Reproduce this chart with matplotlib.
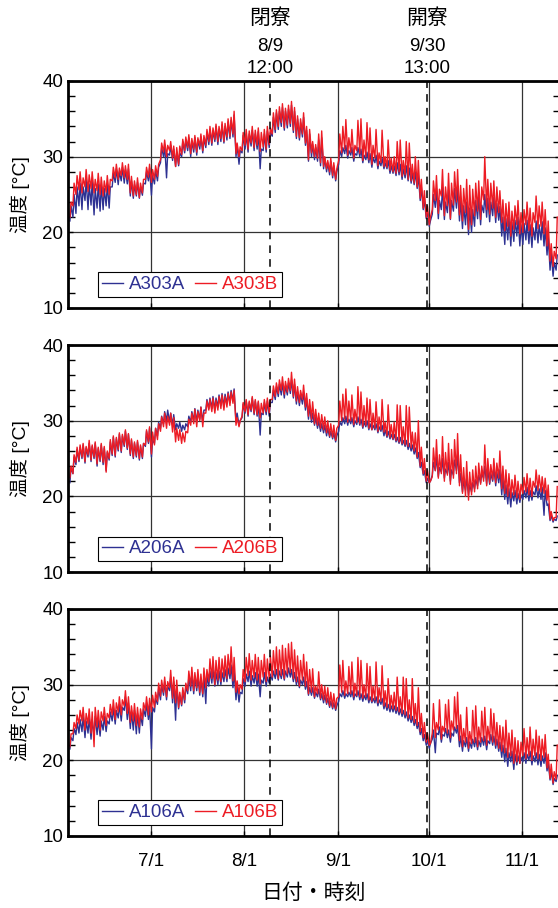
import numpy as np
import pandas as pd
import matplotlib
matplotlib.use('Agg')
import matplotlib.pyplot as plt
from matplotlib.ticker import MultipleLocator

plt.rcParams['font.family'] = ['Liberation Sans', 'Noto Sans CJK JP']

# daily readings (low ~05:00, high ~14:00) from 6/4
days = pd.date_range('2016-06-04', periods=162, freq='D')

a303b_high = [24.0, 26.5, 27.5, 28.0, 27.2, 28.3, 27.6, 28.0, 27.0, 27.8,
              27.3, 26.8, 27.5, 27.0, 28.6, 29.0, 28.5, 29.2, 28.8, 29.0,
              27.4, 26.8, 27.2, 26.5, 27.0, 28.6, 29.0, 28.3, 28.8, 29.0,
              31.8, 32.2, 31.5, 32.0, 31.4, 31.2, 31.4, 32.3, 32.6, 32.9,
              32.4, 32.8, 32.5, 33.0, 32.8, 33.6, 34.0, 33.8, 34.3, 34.0,
              34.6, 34.4, 35.0, 35.2, 36.0, 31.8, 31.3, 33.2, 33.6, 33.4,
              34.0, 33.5, 33.8, 33.2, 33.6, 34.0, 33.8, 35.8, 36.2, 36.6,
              37.0, 36.4, 36.8, 37.3, 36.5, 35.4, 35.0, 35.8, 34.0, 33.6,
              32.0, 31.6, 33.0, 33.4, 30.0, 29.5, 29.8, 29.2, 28.4, 33.0,
              34.0, 34.9, 32.5, 33.6, 31.5, 34.8, 35.0, 32.2, 34.5, 33.8,
              31.5, 33.6, 30.5, 33.5, 30.0, 32.2, 29.8, 30.0, 32.0, 32.2,
              29.5, 32.0, 31.8, 29.0, 30.0, 29.5, 27.0, 25.5, 23.5, 22.0,
              26.8, 27.5, 25.7, 28.3, 26.0, 27.8, 26.5, 28.0, 28.3, 26.2,
              25.8, 27.0, 26.2, 25.7, 26.5, 26.8, 26.0, 30.0, 27.0, 26.5,
              26.8, 26.0, 25.5, 24.3, 23.8, 24.0, 22.8, 23.5, 24.2, 22.6,
              23.0, 24.0, 23.2, 22.6, 24.8, 23.5, 24.0, 23.0, 21.5, 18.5,
              17.5, 22.0]
a303b_low = [22.0, 23.5, 25.0, 25.6, 25.2, 26.0, 25.4, 25.8, 25.2, 25.5,
             25.0, 24.8, 25.3, 25.0, 26.8, 27.2, 27.0, 27.5, 27.2, 27.0,
             25.2, 24.8, 25.0, 24.6, 25.2, 27.0, 27.3, 26.6, 27.0, 27.4,
             29.6, 30.6, 30.0, 30.8, 29.8, 28.7, 29.0, 30.3, 30.8, 31.2,
             30.4, 31.0, 30.6, 31.4, 30.8, 31.5, 32.0, 31.8, 32.3, 32.0,
             32.4, 32.0, 32.6, 32.7, 33.0, 30.4, 30.0, 30.8, 31.5, 31.0,
             31.8, 31.2, 31.5, 30.7, 31.3, 31.0, 31.6, 33.0, 33.6, 34.0,
             34.5, 33.8, 34.2, 34.4, 33.5, 32.7, 32.5, 33.0, 31.8, 29.6,
             30.5, 30.0, 29.8, 29.2, 28.7, 28.4, 28.0, 27.5, 27.0, 29.5,
             30.5, 31.0, 30.2, 30.6, 29.8, 30.8, 30.4, 29.5, 30.0, 29.6,
             29.0, 29.8, 28.8, 29.2, 28.7, 28.6, 28.2, 28.0, 27.8, 28.0,
             27.4, 27.6, 27.0, 26.8, 26.5, 26.0, 24.5, 23.2, 22.0, 21.0,
             23.0, 24.2, 22.5, 24.8, 22.2, 23.5, 21.8, 23.6, 24.0, 22.3,
             21.5, 22.6, 20.4, 21.0, 22.2, 22.8, 21.7, 24.3, 23.0, 22.4,
             23.2, 22.0, 22.6, 21.3, 20.2, 20.8, 19.5, 20.4, 21.0, 19.8,
             20.0, 21.0, 20.2, 19.5, 21.3, 20.5, 20.8, 19.8, 18.2, 16.2,
             15.5, 16.5]
a303a_high = [23.5, 25.0, 26.0, 26.5, 26.0, 27.0, 26.4, 26.8, 25.8, 26.4,
              26.2, 25.8, 26.4, 26.0, 27.8, 28.4, 28.0, 28.6, 28.3, 28.4,
              26.8, 26.3, 26.6, 26.0, 26.5, 28.0, 28.5, 27.5, 28.2, 28.6,
              31.2, 31.6, 30.4, 31.5, 31.0, 30.6, 30.5, 32.0, 32.2, 32.5,
              32.0, 32.5, 32.2, 32.6, 32.4, 33.2, 33.6, 33.4, 34.0, 33.6,
              34.2, 34.0, 34.6, 34.8, 35.5, 31.5, 30.8, 32.8, 33.0, 33.0,
              33.5, 33.0, 33.3, 31.0, 33.0, 33.4, 33.2, 35.2, 35.8, 36.0,
              36.5, 36.0, 36.3, 36.8, 36.0, 35.0, 34.5, 35.2, 33.5, 33.0,
              31.6, 31.2, 32.2, 32.5, 29.8, 29.2, 29.4, 28.8, 28.0, 30.8,
              31.2, 31.5, 30.8, 31.2, 30.4, 31.2, 31.0, 30.2, 30.6, 30.4,
              29.8, 30.2, 29.4, 29.8, 29.2, 29.5, 28.8, 28.8, 29.2, 29.0,
              28.4, 28.8, 28.5, 27.8, 28.0, 27.6, 26.0, 24.5, 22.8, 21.5,
              25.0, 25.8, 24.2, 26.0, 24.0, 25.6, 24.2, 25.8, 26.0, 24.3,
              23.5, 24.0, 23.2, 23.0, 24.2, 24.8, 23.6, 25.0, 24.5, 24.0,
              24.6, 23.8, 23.4, 22.0, 21.8, 22.0, 21.3, 21.6, 22.0, 21.0,
              21.2, 21.6, 21.0, 20.6, 21.5, 21.0, 21.4, 20.6, 19.5, 17.3,
              16.0, 17.0]
a303a_low = [21.5, 22.0, 22.5, 23.5, 23.0, 24.2, 23.0, 23.6, 22.3, 23.2,
             22.8, 23.0, 23.5, 23.2, 26.0, 26.6, 26.3, 26.8, 26.5, 26.4,
             24.8, 24.5, 24.8, 24.5, 24.9, 26.4, 26.8, 24.9, 26.4, 26.8,
             29.2, 30.0, 27.2, 30.2, 29.5, 28.7, 28.8, 30.0, 30.5, 30.8,
             30.0, 30.6, 30.2, 31.0, 30.5, 31.2, 31.6, 31.5, 32.0, 31.6,
             32.0, 31.8, 32.2, 32.4, 32.6, 30.0, 29.0, 30.5, 31.0, 30.6,
             31.4, 30.8, 31.0, 28.4, 30.8, 30.6, 31.2, 32.7, 33.2, 33.6,
             34.0, 33.5, 33.8, 34.0, 33.2, 32.4, 32.2, 32.6, 31.5, 29.4,
             30.0, 29.6, 29.4, 28.8, 28.4, 28.0, 27.6, 27.2, 26.8, 29.0,
             30.0, 30.4, 29.8, 30.2, 29.4, 30.2, 30.0, 29.2, 29.6, 29.2,
             28.6, 29.2, 28.4, 28.8, 28.4, 28.4, 27.8, 27.8, 27.5, 27.6,
             27.0, 27.2, 26.8, 26.5, 26.3, 25.8, 24.2, 23.0, 21.8, 20.8,
             22.4, 23.3, 21.8, 23.0, 21.7, 22.6, 21.7, 22.8, 23.2, 21.5,
             20.5, 21.0, 19.7, 20.0, 20.8, 21.8, 21.0, 22.6, 22.0, 21.4,
             22.2, 21.3, 21.6, 19.5, 18.4, 19.0, 18.2, 18.8, 19.5, 18.2,
             18.4, 19.0, 18.5, 18.0, 19.0, 18.6, 19.0, 18.2, 17.0, 15.0,
             14.2, 15.0]

a206b_high = [24.0, 25.5, 26.5, 26.8, 27.0, 26.6, 27.4, 26.8, 27.2, 26.5,
              27.0, 26.6, 26.0, 27.5, 28.0, 27.8, 28.4, 28.2, 28.8, 28.3,
              27.6, 27.2, 27.4, 26.8, 27.0, 28.8, 29.2, 28.5, 29.0, 29.6,
              30.5, 31.0, 30.6, 31.0, 30.4, 29.0, 28.8, 28.4, 28.6, 30.2,
              31.0, 31.5, 31.2, 31.8, 31.0, 32.6, 32.8, 33.0, 32.7, 33.2,
              33.4, 33.2, 33.6, 33.8, 34.0, 30.4, 30.0, 32.4, 32.8, 32.6,
              33.2, 32.8, 32.6, 32.3, 32.8, 33.0, 32.8, 34.6, 35.0, 35.4,
              35.8, 35.2, 35.6, 36.4, 35.5, 34.5, 34.0, 34.7, 33.6, 32.8,
              32.5, 31.5, 31.0, 30.8, 30.5, 30.0, 29.6, 29.4, 29.0, 32.6,
              33.5, 34.2, 32.6, 33.4, 31.5, 34.5, 33.8, 32.0, 33.0, 32.8,
              31.0, 32.5, 30.5, 32.8, 29.8, 32.1, 29.5, 29.8, 32.1, 32.0,
              29.2, 32.0, 31.8, 28.5, 28.4, 30.0, 26.5, 25.0, 23.5, 22.0,
              26.4, 27.5, 25.5, 27.9, 25.8, 27.0, 26.2, 27.5, 28.3, 25.5,
              23.8, 24.6, 23.2, 23.5, 24.0, 24.4, 24.0, 26.8, 25.0, 24.2,
              25.0, 24.4, 26.0, 24.0, 23.5, 23.0, 22.2, 22.8, 22.0, 21.6,
              22.5, 23.0, 22.4, 22.0, 23.5, 22.8, 22.6, 22.4, 21.5, 18.0,
              17.2, 21.3]
a206b_low = [22.5, 23.0, 24.5, 24.8, 25.2, 24.6, 25.5, 24.8, 25.2, 24.3,
             24.8, 24.5, 23.2, 25.0, 25.6, 25.4, 26.2, 26.0, 26.8, 26.4,
             25.6, 25.2, 25.4, 25.0, 25.2, 26.8, 27.2, 25.6, 26.8, 27.5,
             28.6, 29.2, 29.0, 29.4, 28.5, 27.2, 27.4, 27.0, 27.2, 28.4,
             29.4, 29.6, 29.2, 30.0, 29.2, 31.0, 31.4, 31.2, 31.0, 31.4,
             31.6, 31.4, 31.8, 32.0, 32.3, 29.4, 29.2, 30.6, 31.2, 30.8,
             31.4, 31.0, 30.8, 30.4, 31.0, 31.2, 31.0, 32.8, 33.2, 33.6,
             34.0, 33.5, 33.8, 34.0, 33.2, 32.6, 32.4, 32.8, 31.8, 30.6,
             30.2, 29.6, 29.4, 29.0, 28.8, 28.4, 28.0, 27.8, 27.4, 29.4,
             30.0, 30.2, 29.8, 30.0, 29.5, 29.8, 29.6, 29.2, 29.4, 29.0,
             28.8, 29.0, 28.6, 28.8, 28.5, 28.0, 27.8, 27.6, 27.4, 27.2,
             27.0, 26.8, 26.6, 26.4, 26.0, 25.2, 24.0, 23.0, 22.0, 21.8,
             22.6, 23.4, 22.4, 23.0, 22.0, 22.8, 21.6, 22.4, 23.0, 21.4,
             20.4, 20.0, 19.5, 20.2, 20.6, 21.0, 21.6, 22.0, 21.4, 21.8,
             22.2, 21.8, 22.4, 21.0, 20.4, 20.0, 19.8, 20.2, 19.8, 19.6,
             20.4, 20.6, 20.2, 20.0, 21.2, 20.8, 20.6, 20.4, 19.5, 17.0,
             16.8, 17.2]
a206a_high = [23.8, 25.2, 26.2, 26.5, 26.8, 26.4, 27.0, 26.6, 27.0, 26.3,
              26.8, 26.4, 25.8, 27.2, 27.8, 27.6, 28.2, 28.0, 28.6, 28.2,
              27.4, 27.0, 27.2, 26.6, 27.0, 28.6, 29.0, 27.5, 29.0, 29.8,
              30.6, 31.2, 31.4, 31.0, 30.8, 29.6, 29.8, 29.4, 29.6, 30.6,
              31.2, 31.6, 31.4, 31.8, 31.4, 32.8, 33.0, 33.2, 33.0, 33.4,
              33.6, 33.5, 33.8, 34.0, 34.2, 31.0, 30.0, 32.2, 32.6, 32.4,
              33.0, 32.6, 32.4, 31.0, 32.4, 32.6, 32.4, 34.0, 34.5, 34.8,
              35.0, 34.6, 35.0, 35.4, 34.8, 33.8, 33.5, 33.8, 33.0, 32.0,
              31.0, 30.5, 30.0, 29.6, 29.4, 29.0, 28.6, 28.4, 28.0, 29.8,
              30.4, 30.6, 30.2, 30.4, 30.0, 30.5, 30.2, 29.8, 30.0, 29.6,
              29.4, 29.6, 29.2, 29.4, 28.8, 28.6, 28.2, 28.2, 27.8, 27.8,
              27.4, 27.4, 27.0, 26.8, 26.4, 25.8, 24.5, 23.4, 22.4, 22.0,
              24.5, 25.2, 23.8, 25.0, 23.6, 24.5, 23.5, 24.8, 25.5, 23.0,
              22.0, 22.4, 21.5, 21.8, 22.2, 22.8, 23.0, 24.0, 23.5, 23.0,
              23.8, 23.2, 23.5, 22.4, 21.5, 21.0, 20.5, 20.8, 20.4, 20.2,
              20.8, 21.2, 20.8, 20.6, 21.4, 21.0, 21.2, 20.8, 19.0, 17.5,
              17.0, 17.4]
a206a_low = [21.8, 23.0, 24.2, 24.6, 25.0, 24.4, 25.2, 24.6, 25.0, 24.0,
             24.6, 24.2, 23.4, 24.8, 25.4, 25.2, 26.0, 25.8, 26.6, 26.2,
             25.4, 25.0, 25.2, 24.8, 25.0, 26.6, 27.0, 25.2, 27.0, 28.0,
             29.0, 29.6, 30.0, 29.8, 29.4, 28.8, 29.0, 28.6, 28.8, 29.2,
             29.8, 30.0, 29.8, 30.2, 29.8, 31.4, 31.6, 31.6, 31.4, 31.8,
             32.0, 31.8, 32.2, 32.4, 32.6, 29.8, 29.4, 30.4, 31.0, 30.6,
             31.2, 30.8, 30.6, 28.1, 30.8, 30.8, 30.6, 32.4, 32.8, 33.2,
             33.4, 33.0, 33.4, 33.6, 33.0, 32.2, 32.0, 32.2, 31.4, 30.2,
             29.8, 29.4, 29.0, 28.6, 28.4, 28.0, 27.8, 27.6, 27.2, 28.6,
             29.4, 29.6, 29.4, 29.6, 29.2, 29.5, 29.4, 29.0, 29.2, 28.8,
             28.8, 28.8, 28.4, 28.6, 28.0, 27.8, 27.6, 27.5, 27.2, 27.0,
             26.8, 26.6, 26.2, 26.0, 25.6, 25.0, 23.8, 22.8, 21.8, 21.8,
             22.8, 23.4, 22.6, 23.2, 22.4, 23.0, 22.0, 22.8, 23.4, 21.8,
             20.6, 20.8, 20.2, 20.6, 21.0, 21.4, 21.8, 22.4, 21.6, 21.6,
             22.0, 21.4, 21.8, 20.2, 19.6, 19.0, 18.6, 19.4, 19.0, 19.2,
             19.6, 19.8, 19.4, 19.5, 20.2, 19.8, 19.6, 17.5, 18.8, 16.8,
             16.6, 16.8]

a106b_high = [23.5, 25.0, 26.0, 26.6, 27.0, 26.2, 26.8, 26.4, 27.0, 26.6,
              26.4, 27.0, 26.2, 27.4, 28.0, 27.6, 28.4, 28.0, 29.2, 28.4,
              27.2, 27.5, 27.0, 26.8, 27.6, 28.4, 28.2, 28.6, 29.0, 30.2,
              30.6, 31.0, 30.4, 31.9, 31.0, 30.6, 29.0, 29.6, 30.2, 31.8,
              32.3, 31.6, 32.0, 31.4, 32.2, 32.0, 33.4, 33.7, 33.2, 33.6,
              33.4, 33.8, 34.0, 35.0, 33.6, 30.5, 30.0, 32.0, 33.6, 34.1,
              33.2, 34.0, 33.6, 33.2, 34.0, 33.4, 33.8, 34.5, 35.0, 34.6,
              35.2, 34.8, 35.4, 35.6, 34.6, 33.8, 33.2, 34.0, 33.0, 32.0,
              32.1, 29.8, 31.7, 30.0, 29.8, 29.6, 29.0, 28.8, 28.2, 32.6,
              33.2, 30.5, 32.4, 33.0, 30.2, 33.6, 33.2, 30.0, 32.8, 32.4,
              29.8, 33.0, 29.6, 32.5, 29.2, 30.8, 28.6, 29.0, 31.0, 28.4,
              31.0, 30.8, 28.0, 30.8, 27.5, 29.6, 26.2, 25.0, 23.6, 22.2,
              27.5, 25.0, 28.0, 24.5, 27.4, 28.0, 25.2, 28.4, 29.0, 26.0,
              24.2, 27.0, 23.8, 26.6, 27.2, 24.4, 26.5, 27.0, 24.5, 26.8,
              26.2, 25.0, 24.6, 24.4, 25.3, 23.6, 24.0, 23.0, 22.6, 22.4,
              24.2, 23.0, 24.4, 22.8, 24.0, 23.2, 22.8, 23.4, 20.8, 19.5,
              18.5, 22.0]
a106b_low = [21.8, 23.5, 24.2, 24.8, 25.2, 24.0, 24.8, 23.6, 21.8, 24.4,
             24.0, 25.2, 24.6, 25.6, 26.0, 25.4, 26.4, 26.0, 27.2, 26.2,
             25.0, 25.2, 24.6, 24.4, 25.4, 26.6, 26.0, 26.4, 27.0, 27.8,
             28.5, 29.0, 28.4, 29.6, 28.2, 27.6, 27.0, 27.4, 28.0, 29.2,
             29.8, 29.2, 29.6, 29.0, 28.8, 29.6, 30.4, 30.8, 30.0, 30.6,
             30.4, 31.0, 30.8, 31.4, 30.5, 29.0, 28.8, 29.4, 30.4, 31.2,
             30.6, 31.0, 30.6, 30.1, 31.0, 30.4, 30.8, 31.0, 31.4, 30.8,
             31.2, 30.8, 31.4, 31.6, 30.8, 30.4, 29.8, 30.6, 29.8, 28.8,
             29.0, 28.4, 28.8, 28.2, 28.0, 27.6, 27.2, 27.0, 26.8, 28.4,
             29.0, 28.6, 28.8, 28.8, 28.4, 28.6, 28.4, 28.2, 28.4, 28.0,
             27.8, 28.0, 27.6, 27.8, 27.2, 27.0, 26.8, 26.8, 26.6, 26.4,
             26.2, 26.0, 25.6, 25.4, 25.0, 24.6, 23.8, 23.0, 22.4, 22.0,
             23.6, 23.0, 24.0, 22.8, 23.8, 23.6, 23.0, 24.0, 24.2, 22.6,
             21.8, 22.4, 21.6, 22.2, 22.4, 21.8, 22.4, 22.6, 22.0, 22.6,
             22.4, 22.0, 21.6, 21.2, 21.0, 20.4, 20.6, 19.6, 19.8, 19.6,
             20.6, 20.2, 20.6, 20.0, 20.6, 20.2, 20.0, 20.4, 19.0, 17.6,
             17.0, 17.5]
a106a_high = [23.0, 24.2, 25.0, 25.4, 25.8, 25.2, 25.6, 25.4, 25.8, 25.4,
              25.2, 25.8, 25.2, 26.4, 27.0, 26.6, 27.4, 27.0, 28.4, 27.6,
              26.4, 26.6, 26.2, 26.0, 26.8, 27.6, 27.4, 27.0, 28.2, 29.5,
              30.0, 30.4, 29.8, 31.0, 30.4, 29.8, 28.6, 29.2, 29.8, 31.0,
              31.4, 31.0, 31.2, 30.8, 31.2, 31.2, 31.8, 32.0, 31.6, 31.8,
              31.6, 32.0, 32.2, 32.6, 31.8, 30.0, 29.0, 30.8, 31.4, 31.8,
              31.2, 31.6, 31.4, 30.6, 31.6, 31.0, 31.4, 31.8, 32.0, 31.8,
              32.0, 31.8, 32.2, 32.0, 31.6, 31.0, 30.6, 31.0, 30.4, 29.6,
              29.6, 29.0, 29.4, 28.8, 28.6, 28.2, 27.8, 27.6, 27.2, 28.8,
              29.2, 28.8, 29.0, 29.2, 28.8, 29.2, 28.8, 28.6, 28.8, 28.4,
              28.2, 28.4, 28.0, 28.2, 27.6, 27.4, 27.2, 27.2, 27.0, 26.8,
              26.6, 26.4, 26.0, 25.8, 25.4, 25.0, 24.2, 23.4, 22.6, 22.2,
              24.0, 23.6, 24.4, 23.4, 24.2, 24.0, 23.6, 24.4, 24.6, 23.2,
              22.6, 23.0, 22.4, 22.8, 23.0, 22.6, 23.0, 23.2, 22.6, 23.4,
              23.2, 22.8, 22.4, 22.0, 21.6, 21.0, 21.2, 20.8, 20.6, 20.4,
              21.0, 20.8, 21.2, 20.6, 21.0, 20.8, 20.6, 21.0, 19.8, 18.6,
              17.6, 18.0]
a106a_low = [21.5, 22.6, 23.4, 23.6, 23.8, 23.0, 23.6, 22.8, 23.2, 23.4,
             23.2, 24.0, 23.8, 24.8, 25.2, 24.8, 25.6, 25.2, 26.6, 25.4,
             24.2, 24.0, 23.5, 23.6, 24.6, 25.8, 25.4, 21.5, 26.4, 27.4,
             28.0, 28.6, 28.0, 29.2, 27.6, 25.3, 26.8, 27.2, 27.6, 28.8,
             29.2, 28.8, 29.2, 28.6, 28.4, 27.5, 29.8, 30.2, 29.8, 30.0,
             30.0, 30.4, 30.4, 30.8, 29.6, 28.0, 27.7, 28.8, 29.8, 30.4,
             29.8, 30.2, 29.8, 28.4, 30.2, 29.8, 30.2, 30.6, 30.8, 30.6,
             30.8, 30.6, 31.0, 31.0, 30.4, 30.0, 29.6, 30.0, 29.4, 28.6,
             28.6, 28.2, 28.4, 28.0, 27.6, 27.4, 27.0, 26.8, 26.6, 27.8,
             28.4, 28.2, 28.4, 28.4, 28.0, 28.4, 28.0, 27.8, 28.0, 27.6,
             27.6, 27.6, 27.2, 27.4, 26.8, 26.6, 26.4, 26.4, 26.2, 26.0,
             25.8, 25.6, 25.2, 25.0, 24.6, 24.2, 23.4, 22.6, 22.0, 21.6,
             22.8, 21.0, 23.4, 22.4, 23.2, 23.0, 22.4, 23.2, 23.6, 21.8,
             21.2, 21.8, 21.2, 21.6, 21.8, 21.4, 21.8, 22.0, 21.4, 22.2,
             22.0, 21.6, 21.2, 20.4, 19.8, 19.2, 19.8, 18.8, 19.4, 19.6,
             19.8, 19.6, 20.0, 19.4, 19.8, 19.4, 19.2, 19.6, 18.6, 17.4,
             16.8, 17.2]

names_a = ['A303A', 'A206A', 'A106A']
names_b = ['A303B', 'A206B', 'A106B']
lows_a = [a303a_low, a206a_low, a106a_low]
highs_a = [a303a_high, a206a_high, a106a_high]
lows_b = [a303b_low, a206b_low, a106b_low]
highs_b = [a303b_high, a206b_high, a106b_high]

month_ticks = pd.to_datetime(['2016-07-01', '2016-08-01', '2016-09-01',
                              '2016-10-01', '2016-11-01'])
month_labels = ['7/1', '8/1', '9/1', '10/1', '11/1']
events = pd.to_datetime(['2016-08-09 12:00', '2016-09-30 13:00'])
event_lines = [('閉寮', '8/9', '12:00'), ('開寮', '9/30', '13:00')]


def series(low, high):
    t = np.empty(2 * len(days), dtype='datetime64[ns]')
    t[0::2] = (days + pd.Timedelta(hours=5)).values
    t[1::2] = (days + pd.Timedelta(hours=14)).values
    v = np.empty(2 * len(days))
    v[0::2] = low
    v[1::2] = high
    return t, v


fig = plt.figure(figsize=(5.58, 9.08), dpi=100)
bottoms = [0.6608, 0.3700, 0.0793]

for i in range(3):
    ax = fig.add_axes([0.1219, bottoms[i], 0.8817, 0.25])
    t, va = series(lows_a[i], highs_a[i])
    t, vb = series(lows_b[i], highs_b[i])
    ax.plot(t, va, color='#2e3192', lw=1.0, label=names_a[i])
    ax.plot(t, vb, color='#ed1c24', lw=1.0, label=names_b[i])
    for ev in events:
        ax.axvline(ev, color='k', lw=1.1, ls=(0, (5, 4)))

    ax.set_xlim(pd.Timestamp('2016-06-03 14:00'), pd.Timestamp('2016-11-13 12:00'))
    ax.set_ylim(10, 40)
    ax.set_yticks([10, 20, 30, 40])
    ax.yaxis.set_minor_locator(MultipleLocator(2))
    ax.set_xticks(month_ticks)
    if i == 2:
        ax.set_xticklabels(month_labels)
    else:
        ax.set_xticklabels([])
    ax.grid(True, which='major', color='#333333', lw=0.9)
    ax.tick_params(which='both', direction='in', right=True, top=False,
                   labelsize=13.5, width=1)
    ax.tick_params(which='minor', length=5)
    ax.tick_params(axis='x', pad=12)
    for s in ax.spines.values():
        s.set_linewidth(2)
    ax.set_ylabel('温度 [°C]', fontsize=14)
    ax.yaxis.set_label_coords(-0.077, 0.5)

    leg = ax.legend(loc='lower left', bbox_to_anchor=(0.061, 0.048), ncol=2,
                    fancybox=False, edgecolor='k', fontsize=13.5,
                    handlelength=1.15, handletextpad=0.3, columnspacing=0.5,
                    borderpad=0.2, borderaxespad=0, labelcolor='linecolor',
                    framealpha=1)
    leg.get_frame().set_linewidth(0.8)

    if i == 0:
        for ev, (a, b, c) in zip(events, event_lines):
            tr = ax.get_xaxis_transform()
            ax.text(ev, 1.2775, a, transform=tr, ha='center', va='center', fontsize=15)
            ax.text(ev, 1.150, b, transform=tr, ha='center', va='center', fontsize=13.5)
            ax.text(ev, 1.057, c, transform=tr, ha='center', va='center', fontsize=13.5)

fig.text(314 / 558, 1 - 893 / 908, '日付・時刻', ha='center', va='center', fontsize=15)

fig.savefig('out.png', dpi=100)
